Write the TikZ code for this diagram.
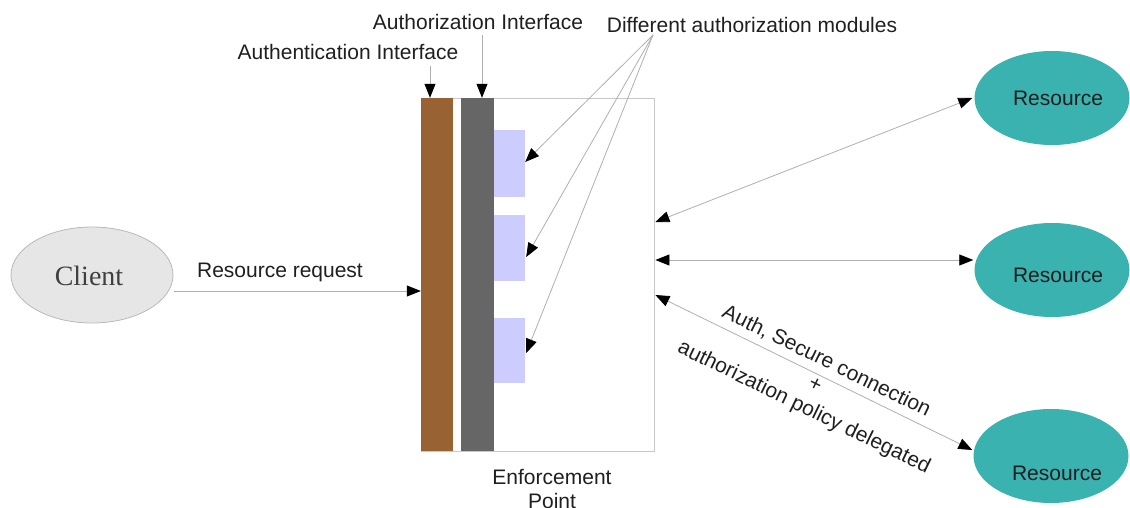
\documentclass[tikz,border=0pt]{standalone}
\usepackage{fontspec}
\setmainfont{Liberation Sans}
\newfontfamily\clientface{Liberation Serif}
\usetikzlibrary{arrows.meta,shapes.geometric}

\definecolor{barbrown}{RGB}{153,98,50}
\definecolor{bargray}{RGB}{102,102,102}
\definecolor{modfill}{RGB}{204,204,255}
\definecolor{resfill}{RGB}{58,178,176}
\definecolor{linegray}{RGB}{175,175,175}
\definecolor{clientfill}{RGB}{230,230,230}
\definecolor{clientline}{RGB}{185,185,185}
\definecolor{boxline}{RGB}{200,200,200}

\begin{document}
\begin{tikzpicture}[x=1pt,y=-1pt,
  >={Triangle[length=14pt,width=11pt,color=black]},
  txt/.style={font=\fontsize{21}{25.5}\selectfont, text=black!88, inner sep=0pt},
  conn/.style={draw=linegray, line width=0.8pt, ->},
  biconn/.style={draw=linegray, line width=0.8pt, <->},
  bar/.style={draw=none, minimum width=#1, minimum height=353pt, inner sep=0pt},
  module/.style={fill=modfill, draw=none, minimum width=31pt, inner sep=0pt},
  resource/.style={ellipse, fill=resfill, draw=none, minimum width=155pt,
    minimum height=94pt, inner sep=0pt},
]
\useasboundingbox (0,0) rectangle (1130,508);

% enforcement point frame and the two interface bars
\node[draw=boxline, line width=0.8pt, minimum width=233pt, minimum height=353pt,
  inner sep=0pt] (ep) at (537.5,274.5) {};
\node[bar=32pt, fill=barbrown] (authn) at (437,274.5) {};
\node[bar=33pt, fill=bargray] (authz) at (477.5,274.5) {};

% authorization modules
\node[module, minimum height=67pt] (m1) at (509.5,163.5) {};
\node[module, minimum height=66pt] (m2) at (509.5,248) {};
\node[module, minimum height=65pt] (m3) at (509.5,350.5) {};

% client and resources
\node[ellipse, fill=clientfill, draw=clientline, line width=0.8pt,
  minimum width=162pt, minimum height=96pt, inner sep=0pt] (client) at (92,275) {};
\node[font=\clientface\fontsize{28}{30}\selectfont, text=black!75] (clientlbl) at (89,276) {Client};

\node[resource] (r1) at (1052,98) {};
\node[txt] (r1lbl) at (1058,98) {Resource};
\node[resource] (r2) at (1052,270) {};
\node[txt] (r2lbl) at (1058,275) {Resource};
\node[resource] (r3) at (1051,456) {};
\node[txt] (r3lbl) at (1057,473) {Resource};

% labels
\node[txt] (authzlbl) at (478,22) {Authorization Interface};
\node[txt] (authnlbl) at (348,52) {Authentication Interface};
\node[txt] (modlbl) at (752,25) {Different authorization modules};
\node[txt] (reqlbl) at (280,272) {Resource request};
\node[txt, align=center, font=\fontsize{21}{24}\selectfont] (eplbl) at (552,489) {Enforcement\\Point};
\node[txt, align=center, rotate=-26] (seclbl) at (815,385)
  {Auth, Secure connection\\+\\authorization policy delegated};

% connectors
\coordinate (authnstart) at (430,66);
\coordinate (authzstart) at (482,35);
\coordinate (hub) at (653,35);
\draw[conn] (authnstart) -- (authnstart |- authn.north);
\draw[conn] (authzstart) -- (authzstart |- authz.north);

\draw[conn] (hub) -- ([yshift=1.5pt]m1.east);
\draw[conn] (hub) -- ([xshift=1pt,yshift=-9pt]m2.east);
\draw[conn] (hub) -- ([xshift=1pt,yshift=-2.5pt]m3.east);

\draw[conn] ([xshift=1pt,yshift=-16pt]client.east) -- ([yshift=-16.5pt]authn.west);

\draw[biconn] ([xshift=1pt,yshift=52.5pt]ep.east) -- ([xshift=-2pt]r1.west);
\draw[biconn] ([xshift=1pt,yshift=14.5pt]ep.east) -- ([xshift=-1pt,yshift=10pt]r2.west);
\draw[biconn] ([xshift=1pt,yshift=-20.5pt]ep.east) -- ([xshift=-1pt,yshift=6pt]r3.west);
\end{tikzpicture}
\end{document}
